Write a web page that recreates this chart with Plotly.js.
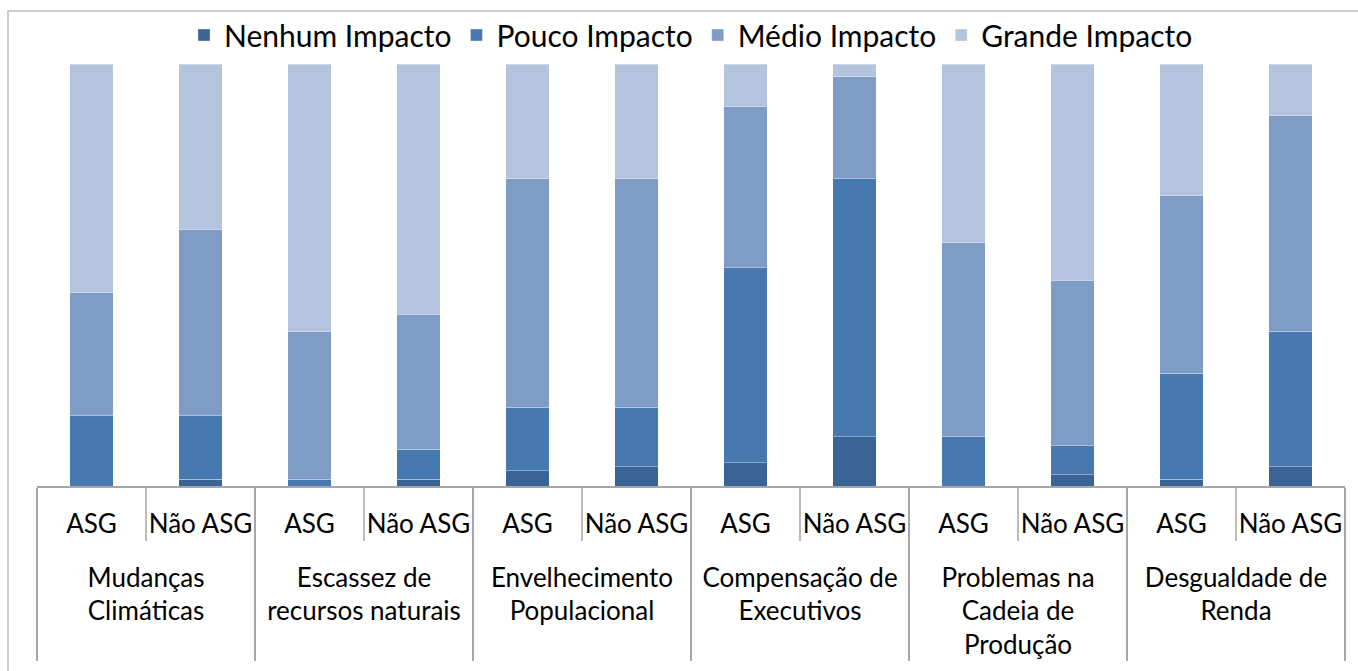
<!DOCTYPE html>
<html>
<head>
<meta charset="utf-8">
<script src="https://cdn.plot.ly/plotly-3.0.1.min.js"></script>
<style>
html, body { margin: 0; padding: 0; background: #fff; }
#chart { width: 1358px; height: 671px; }
</style>
</head>
<body>
<div id="chart"></div>
<script>
// Categories (leading <br> leaves the gap under the sub-category row)
const groups = [
  '<br>Mudanças<br>Climáticas',
  '<br>Escassez de<br>recursos naturais',
  '<br>Envelhecimento<br>Populacional',
  '<br>Compensação de<br>Executivos',
  '<br>Problemas na<br>Cadeia de<br>Produção',
  '<br>Desgualdade de<br>Renda'
];
const subgroups = ['ASG', 'Não ASG'];

// Series values (% of responses), order: ASG, Não ASG for each group
const seriesNames = ['Nenhum Impacto', 'Pouco Impacto', 'Médio Impacto', 'Grande Impacto'];
const nenhum = [0, 1.6, 0, 1.6, 3.6, 4.6, 5.5, 11.7, 0, 2.7, 1.6, 4.6];
const pouco  = [16.6, 15.0, 1.6, 7.1, 15.0, 14.1, 46.2, 61.1, 11.7, 6.8, 25.2, 32.1];
const medio  = [29.3, 44.2, 35.1, 32.0, 54.1, 54.1, 38.1, 24.2, 46.0, 39.2, 42.1, 51.1];
const grande = [54.1, 39.2, 63.3, 59.3, 27.2, 27.2, 10.1, 3.0, 42.3, 51.3, 31.2, 12.2];
const colors = ['#3B6496', '#4878B0', '#7F9CC7', '#B5C4DE'];

const outer = [], inner = [];
groups.forEach(g => subgroups.forEach(s => { outer.push(g); inner.push(s); }));

const values = [nenhum, pouco, medio, grande];
const traces = values.map((v, i) => ({
  type: 'bar',
  name: seriesNames[i],
  x: [outer, inner],
  y: v,
  marker: { color: colors[i], line: { color: 'rgba(255,255,255,0.35)', width: 1 } },
  hoverinfo: 'none'
}));

const FONT = 'Lato, "Open Sans", sans-serif';
const L = 37, R = 13, T = 64, B = 185, W = 1358, H = 671;
const pw = W - L - R, ph = H - T - B;

// sub-dividers between ASG and Não ASG inside each group
const shapes = [];
for (let g = 0; g < groups.length; g++) {
  shapes.push({
    type: 'line', xref: 'x', yref: 'paper',
    x0: g * 2 + 0.5, x1: g * 2 + 0.5,
    y0: 0, y1: -(541 - 486) / ph,
    line: { color: '#A6A6A6', width: 1.5 }
  });
}
// outer frame of the chart
shapes.push({
  type: 'rect', xref: 'paper', yref: 'paper',
  x0: (8 - L) / pw, x1: (W + 5 - L) / pw,
  y0: -(H + 5 - T - ph) / ph, y1: 1 + (T - 11) / ph,
  line: { color: '#BFBFBF', width: 1.5 }, fillcolor: 'rgba(0,0,0,0)'
});

const layout = {
  width: W, height: H,
  margin: { l: L, r: R, t: T, b: B, pad: 0, autoexpand: false },
  paper_bgcolor: '#fff', plot_bgcolor: '#fff',
  barmode: 'stack', barnorm: 'percent', bargap: 0.605,
  font: { family: FONT, color: '#000' },
  showlegend: true,
  legend: {
    orientation: 'h', x: 0.5, xanchor: 'center', y: 1 + (T - 35) / ph, yanchor: 'middle',
    font: { family: FONT, size: 30, color: '#000' }, traceorder: 'normal',
    bgcolor: 'rgba(0,0,0,0)', itemwidth: 30
  },
  xaxis: {
    type: 'multicategory',
    showline: true, linecolor: '#A6A6A6', linewidth: 1.5,
    showdividers: true, dividercolor: '#A6A6A6', dividerwidth: 1.5,
    ticks: '', ticklabelstandoff: 14, tickangle: 0,
    tickfont: { family: FONT, size: 26, color: '#000' },
    showgrid: false, zeroline: false, fixedrange: true
  },
  yaxis: {
    range: [0, 100], visible: false, showgrid: false, zeroline: false, fixedrange: true
  },
  shapes: shapes
};

Plotly.newPlot('chart', traces, layout, { displayModeBar: false, staticPlot: true });
</script>
</body>
</html>
